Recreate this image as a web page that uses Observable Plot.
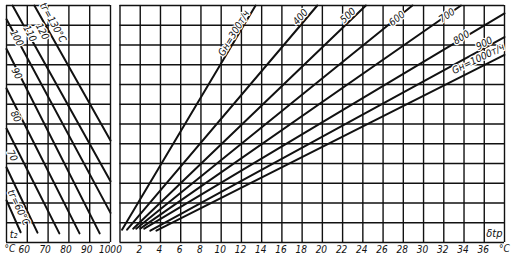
<!DOCTYPE html>
<html><head><meta charset="utf-8">
<script src="https://cdn.jsdelivr.net/npm/d3@7"></script>
<script src="https://cdn.jsdelivr.net/npm/@observablehq/plot@0.6"></script>
<style>
body{margin:0;background:#fff;}
#wrap{display:flex;width:511px;height:259px;background:#fff;}
#wrap svg{display:block;overflow:visible;background:none}
</style></head><body><div id="wrap"></div>
<script>
// ---- data ----
const t2Ticks = [60, 70, 80, 90, 100];
const t2Grid = [50, 60, 70, 80, 90, 100];
const dtTicks = [0, 2, 4, 6, 8, 10, 12, 14, 16, 18, 20, 22, 24, 26, 28, 30, 32, 34, 36];
const dtGrid = [0, 2, 4, 6, 8, 10, 12, 14, 16, 18, 20, 22, 24, 26, 28, 30, 32, 34, 36, 38];
const yGrid = [0, 1, 2, 3, 4, 5, 6, 7, 8, 9, 10, 11, 12];

// hot-water temperature lines t_г (left panel): start/end points (t2, y)
const trValues = [60, 70, 80, 90, 100, 110, 120, 130];
const trStartT2 = [50, 50, 50, 50, 50, 50, 52.9, 63.4];
const trStartY = [2.13, 3.8, 5.77, 7.8, 9.8, 11.3, 12, 12];
const trEndT2 = [56.8, 64.9, 75.4, 85.1, 94.8, 100, 100, 100];
const trEndY = [0.52, 0.5, 0.46, 0.46, 0.46, 1.5, 3.1, 5.16];
const trLabels = ["tг=60°C", "70", "80", "90", "100", "110", "120", "tг=130°C"];
const trLabelT2 = [55.8, 52.7, 54.4, 54.9, 54.9, 61.2, 67.2, 72.3];
const trLabelY = [1.77, 4.4, 6.38, 8.56, 10.35, 10.58, 10.68, 11.14];
const trLabelAngle = [64, 63, 62, 62, 62, 62, 62, 61];

// flow lines G_н (right panel): start/end points (δt, y)
const gValues = [300, 400, 500, 600, 700, 800, 900, 1000];
const gStartDt = [0.2, 0.7, 1.3, 1.6, 2.0, 2.4, 3.0, 3.6];
const gStartY = [0.65, 0.65, 0.7, 0.7, 0.7, 0.7, 0.6, 0.6];
const gEndDt = [13.4, 19.5, 24.3, 28.9, 33.7, 38, 38, 38];
const gEndY = [12, 12, 12, 12, 12, 11.6, 10.4, 9.5];
const gLabels = ["Gн=300т/ч", "400", "500", "600", "700", "800", "900", "Gн=1000т/ч"];
const gLabelDt = [11.26, 17.84, 22.53, 27.37, 32.31, 33.74, 36.0, 35.4];
const gLabelY = [10.6, 11.42, 11.49, 11.34, 11.49, 10.38, 10.08, 9.3];
const gLabelAngle = [-59, -49, -44, -39, -35, -31, -28, -26];

// ---- build tables ----
const trLines = trValues.flatMap((v, i) => [
  {tr: v, x: trStartT2[i], y: trStartY[i]},
  {tr: v, x: trEndT2[i], y: trEndY[i]}
]);
const trText = trValues.map((v, i) => ({x: trLabelT2[i], y: trLabelY[i], text: trLabels[i], a: trLabelAngle[i]}));
const gLines = gValues.flatMap((v, i) => [
  {g: v, x: gStartDt[i], y: gStartY[i]},
  {g: v, x: gEndDt[i], y: gEndY[i]}
]);
const gText = gValues.map((v, i) => ({x: gLabelDt[i], y: gLabelY[i], text: gLabels[i], a: gLabelAngle[i]}));

const FONT = "'DejaVu Sans Condensed', 'Liberation Sans Narrow', 'DejaVu Sans', sans-serif";
const INK = "#111";
const common = {height: 259, marginTop: 5, marginBottom: 17, style: {fontFamily: FONT, background: "none", overflow: "visible"}};
const labelStyle = {fontSize: 10, fontStyle: "italic", fill: INK, stroke: "#fff", strokeWidth: 2.5, paintOrder: "stroke"};
const tickStyle = {tickSize: 0, tickPadding: 3, fontSize: 10, fontStyle: "italic", fill: INK, label: null};

const left = Plot.plot({
  ...common,
  width: 115, marginLeft: 6, marginRight: 5,
  x: {domain: [50, 100]},
  y: {domain: [0, 12], axis: null},
  marks: [
    Plot.ruleX(t2Grid, {x: d => d, stroke: INK, strokeWidth: 1.4}),
    Plot.ruleY(yGrid, {y: d => d, stroke: INK, strokeWidth: 1.4}),
    Plot.line(trLines, {x: "x", y: "y", z: "tr", stroke: INK, strokeWidth: 2}),
    Plot.text(trText, {x: "x", y: "y", text: "text", rotate: "a", ...labelStyle}),
    Plot.text(["t₂"], {x: 53.4, y: 0.4, text: d => d, fontSize: 11, fontStyle: "italic", fill: INK}),
    Plot.axisX(t2Ticks, {...tickStyle, dx: -3}),
    Plot.text(["°C"], {x: 50, frameAnchor: "bottom", dy: 9, textAnchor: "start", dx: -2, text: d => d, fontSize: 10, fontStyle: "italic", fill: INK})
  ]
});

const right = Plot.plot({
  ...common,
  width: 396, marginLeft: 4.5, marginRight: 7,
  x: {domain: [0, 38]},
  y: {domain: [0, 12], axis: null},
  marks: [
    Plot.ruleX(dtGrid, {x: d => d, stroke: INK, strokeWidth: 1.4}),
    Plot.ruleY(yGrid, {y: d => d, stroke: INK, strokeWidth: 1.4}),
    Plot.line(gLines, {x: "x", y: "y", z: "g", stroke: INK, strokeWidth: 2}),
    Plot.text(gText, {x: "x", y: "y", text: "text", rotate: "a", ...labelStyle}),
    Plot.text(["δtр"], {x: 37, y: 0.45, text: d => d, fontSize: 11, fontStyle: "italic", fill: INK, stroke: "#fff", strokeWidth: 2, paintOrder: "stroke"}),
    Plot.axisX(dtTicks, {...tickStyle, dx: -1}),
    Plot.text(["°C"], {x: 38, frameAnchor: "bottom", dy: 9, text: d => d, fontSize: 10, fontStyle: "italic", fill: INK})
  ]
});

document.getElementById("wrap").append(left, right);
</script>
</body></html>
